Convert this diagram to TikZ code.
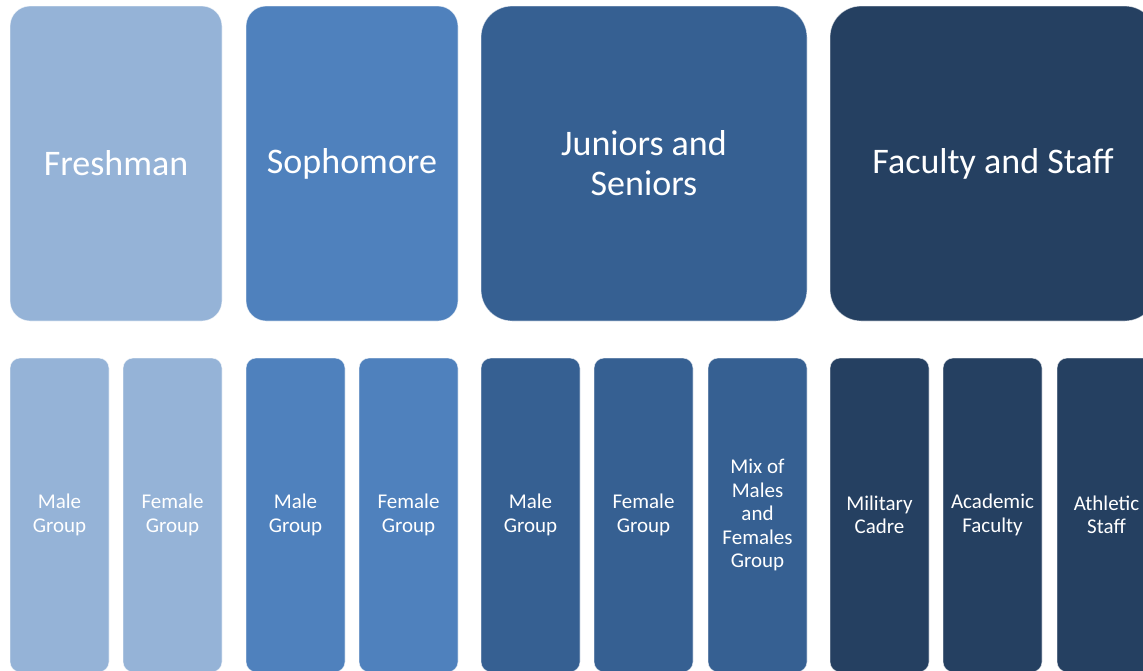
\documentclass[tikz,border=0pt]{standalone}
\usepackage{fontspec}
\setmainfont{Carlito}

\definecolor{freshblue}{HTML}{95B3D7}
\definecolor{sophblue}{HTML}{4F81BD}
\definecolor{juniorblue}{HTML}{366092}
\definecolor{facultyblue}{HTML}{254061}

\tikzset{
  headbox/.style={draw=white, draw opacity=0.6, line width=0.8pt, rounded corners=20pt,
    minimum width=212pt, minimum height=315pt, inner sep=0pt, align=center,
    text=white, font=\fontsize{36}{40}\selectfont},
  widehead/.style={headbox, minimum width=326pt, rounded corners=31pt},
  subbox/.style={draw=white, draw opacity=0.6, line width=0.8pt, rounded corners=10pt,
    minimum width=99pt, minimum height=314pt, inner sep=0pt, align=center,
    text=white, font=\fontsize{21}{23.5}\selectfont}
}

\begin{document}
\begin{tikzpicture}[x=1pt, y=-1pt]

        \def\subrow{515}  % centre line of the lower boxes
        \useasboundingbox (0,0) rectangle (1143,670);
        \clip (0,0) rectangle (1143,670);

        % Top row: the four groups
        \node[headbox, fill=freshblue] (fresh) at (116,163.5) {Freshman};
        \node[headbox, fill=sophblue] (soph) at (352,163.5) {Sophomore};
        \node[widehead, fill=juniorblue] (junsen) at (644,163.5) {Juniors and\\Seniors};
        \node[widehead, fill=facultyblue] (staff) at (993,163.5) {Faculty and Staff};

        % Lower row: freshman
        \node[subbox, fill=freshblue] (freshmale) at (59.5,\subrow) {Male\\Group};
        \node[subbox, fill=freshblue] (freshfemale) at (172.5,\subrow) {Female\\Group};

        % Lower row: sophomore
        \node[subbox, fill=sophblue] (sophmale) at (295.5,\subrow) {Male\\Group};
        \node[subbox, fill=sophblue] (sophfemale) at (408.5,\subrow) {Female\\Group};

        % Lower row: juniors and seniors
        \node[subbox, fill=juniorblue] (junmale) at (530.5,\subrow) {Male\\Group};
        \node[subbox, fill=juniorblue] (junfemale) at (643.5,\subrow) {Female\\Group};
        \node[subbox, fill=juniorblue] (junmix) at (757.5,\subrow) {Mix of\\Males\\and\\Females\\Group};

        % Lower row: faculty and staff
        \node[subbox, fill=facultyblue] (cadre) at (879.5,\subrow) {Military\\Cadre};
        \node[subbox, fill=facultyblue] (academic) at (992.5,\subrow) {Academic\\Faculty};
        \node[subbox, fill=facultyblue] (athletic) at (1106.5,\subrow) {Athletic\\Staff};

\end{tikzpicture}
\end{document}
